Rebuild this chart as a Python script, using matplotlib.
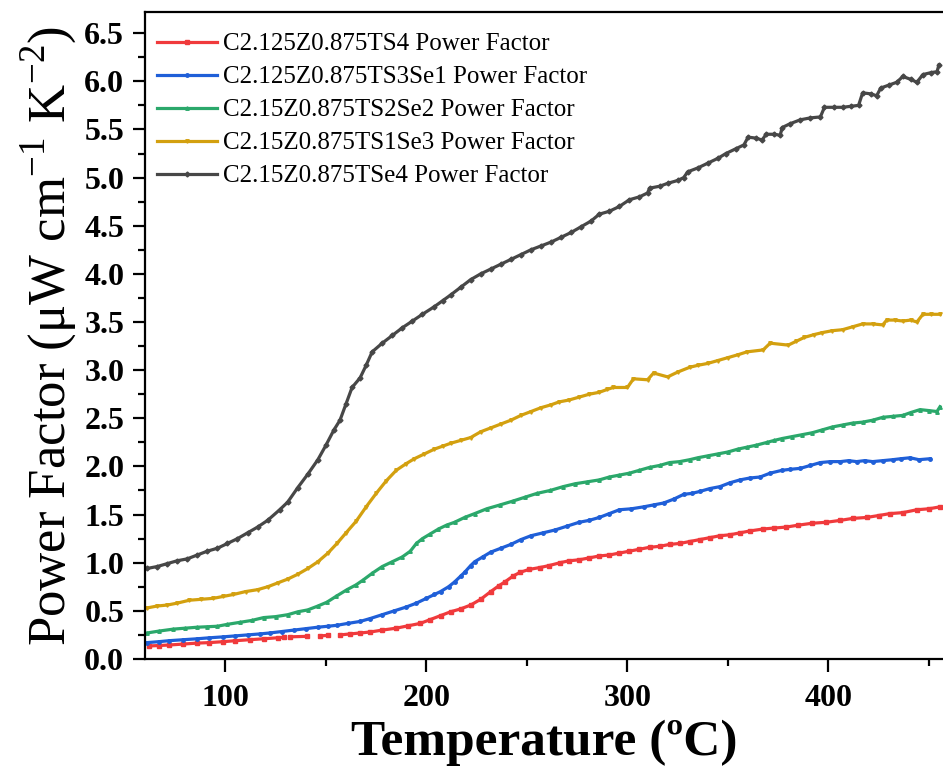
import numpy as np
import matplotlib
matplotlib.use('Agg')
import matplotlib.pyplot as plt
from matplotlib.ticker import MultipleLocator

plt.rcParams['font.family'] = 'serif'
plt.rcParams['font.serif'] = ['Liberation Serif', 'DejaVu Serif']
plt.rcParams['mathtext.fontset'] = 'custom'
plt.rcParams['mathtext.rm'] = 'Liberation Serif'

# temperature (C) and power factor (uW cm-1 K-2)
t_se4 = [61, 66, 71, 76, 81, 86, 91, 96, 101, 106, 111, 116, 121, 127, 131, 136, 141, 146, 150, 154,
         157, 160, 163, 167, 170, 173, 178, 183, 188, 193, 198, 204, 208, 212, 217, 222, 227, 232, 237,
         242, 247, 252, 257, 262, 267, 272, 277, 282, 286, 291, 296, 301, 306, 310, 311, 316, 320, 325,
         328, 330, 335, 340, 345, 349, 354, 358, 360, 364, 367, 369, 373, 376, 377, 381, 386, 391, 396,
         398, 403, 407, 411, 415, 417, 421, 424, 426, 430, 434, 437, 441, 444, 447, 451, 454, 455]
pf_se4 = [0.94, 0.96, 0.99, 1.02, 1.04, 1.08, 1.12, 1.15, 1.20, 1.25, 1.31, 1.37, 1.44, 1.55, 1.63,
          1.78, 1.92, 2.07, 2.22, 2.38, 2.48, 2.65, 2.82, 2.92, 3.05, 3.19, 3.28, 3.36, 3.44, 3.51,
          3.58, 3.66, 3.72, 3.78, 3.86, 3.94, 4.00, 4.05, 4.10, 4.15, 4.20, 4.25, 4.29, 4.33, 4.38,
          4.43, 4.49, 4.55, 4.62, 4.65, 4.70, 4.77, 4.80, 4.84, 4.89, 4.91, 4.94, 4.97, 5.00, 5.06,
          5.10, 5.15, 5.20, 5.25, 5.30, 5.34, 5.42, 5.41, 5.39, 5.45, 5.45, 5.44, 5.52, 5.56, 5.60,
          5.62, 5.63, 5.73, 5.73, 5.73, 5.74, 5.75, 5.88, 5.87, 5.85, 5.93, 5.96, 5.99, 6.05, 6.02,
          5.99, 6.07, 6.09, 6.10, 6.17]

t_s1se3 = [61, 66, 71, 76, 82, 88, 94, 99, 104, 110, 116, 121, 126, 131, 136, 141, 146, 151, 155.5,
           160, 165, 170, 175, 180, 185, 190, 194, 199, 204, 208, 212, 217, 222, 227, 232, 237, 242,
           247, 252, 257, 262, 266, 271, 276, 281, 286, 290, 293, 300, 303, 310, 313, 320, 325, 331,
           335, 340, 345, 350, 355, 359.5, 367.5, 371, 380, 384, 388, 393, 397, 402, 407, 412, 417,
           422, 427, 429, 433, 437, 441, 444, 447, 451, 455.5]
pf_s1se3 = [0.53, 0.55, 0.56, 0.58, 0.61, 0.62, 0.63, 0.65, 0.67, 0.70, 0.72, 0.75, 0.79, 0.83, 0.88,
            0.94, 1.01, 1.10, 1.20, 1.31, 1.43, 1.58, 1.72, 1.85, 1.96, 2.03, 2.08, 2.13, 2.18, 2.21,
            2.24, 2.27, 2.30, 2.36, 2.40, 2.44, 2.48, 2.53, 2.57, 2.61, 2.64, 2.67, 2.69, 2.72, 2.75,
            2.77, 2.80, 2.82, 2.82, 2.91, 2.90, 2.97, 2.93, 2.98, 3.03, 3.05, 3.07, 3.10, 3.13, 3.16,
            3.19, 3.21, 3.28, 3.26, 3.30, 3.34, 3.37, 3.39, 3.41, 3.42, 3.45, 3.48, 3.48, 3.47, 3.52,
            3.52, 3.51, 3.52, 3.50, 3.58, 3.58, 3.58]

t_s2se2 = [61, 67, 74, 80, 86, 91, 96, 101, 107, 113, 119, 125, 131, 136, 141, 146, 150.5, 155, 160.5,
           165, 168.5, 173, 178, 183, 188, 192, 195, 198, 202, 206, 210, 214, 219, 224, 230, 236.6, 243,
           249, 255, 261.5, 268, 274, 280, 286, 291, 296, 301, 306, 311, 316, 321, 326, 331, 335, 340,
           345, 350, 355, 359.5, 364, 369.5, 373, 377, 382, 387, 392, 397, 402, 407, 412, 417, 422,
           427, 432, 437, 441, 445.6, 450, 454, 455.5]
pf_s2se2 = [0.27, 0.29, 0.31, 0.32, 0.33, 0.335, 0.34, 0.36, 0.38, 0.40, 0.43, 0.44, 0.46, 0.49, 0.51,
            0.55, 0.59, 0.65, 0.72, 0.77, 0.82, 0.89, 0.96, 1.01, 1.06, 1.12, 1.20, 1.25, 1.30, 1.35,
            1.39, 1.42, 1.47, 1.51, 1.56, 1.60, 1.64, 1.68, 1.72, 1.75, 1.79, 1.82, 1.84, 1.86, 1.89,
            1.91, 1.93, 1.96, 1.99, 2.01, 2.04, 2.05, 2.07, 2.09, 2.11, 2.13, 2.15, 2.18, 2.20, 2.22,
            2.25, 2.27, 2.29, 2.31, 2.33, 2.35, 2.38, 2.41, 2.43, 2.45, 2.46, 2.48, 2.51, 2.52, 2.53,
            2.56, 2.59, 2.58, 2.57, 2.62]

t_s3se1 = [61, 67, 72, 79, 86, 92, 99, 105, 111, 117, 122, 128, 134, 140, 146, 151, 155.5, 161, 167,
           172, 178, 184, 190, 195, 200, 204, 207, 211, 214, 217, 219, 222, 224, 228, 232, 237, 242,
           247, 252, 258, 264, 270, 276, 281, 286, 291, 296, 302, 308, 313, 318, 323, 328, 332, 336,
           341, 346, 351, 356, 361, 366, 371, 377, 381, 386, 391, 396, 401, 406, 410, 414, 418, 422,
           427, 432, 436, 440.6, 445, 450.6]
pf_s3se1 = [0.17, 0.18, 0.19, 0.20, 0.21, 0.22, 0.23, 0.24, 0.25, 0.26, 0.27, 0.285, 0.30, 0.315, 0.33,
            0.34, 0.35, 0.37, 0.39, 0.42, 0.46, 0.50, 0.54, 0.58, 0.63, 0.67, 0.70, 0.75, 0.80, 0.86,
            0.90, 0.97, 1.01, 1.06, 1.11, 1.15, 1.19, 1.24, 1.28, 1.31, 1.34, 1.38, 1.42, 1.44, 1.47,
            1.51, 1.55, 1.56, 1.58, 1.60, 1.62, 1.66, 1.71, 1.72, 1.74, 1.77, 1.79, 1.83, 1.86, 1.88,
            1.89, 1.93, 1.96, 1.97, 1.98, 2.01, 2.04, 2.05, 2.05, 2.06, 2.05, 2.06, 2.05, 2.06, 2.07,
            2.08, 2.09, 2.07, 2.08]

# red curve has missing points around 130-155 C
t_s4 = [62, 67, 72, 79, 86, 92, 99, 105, 112, 119, 126, 129, 130.5, 132, 140.5, 144, 147, 151, 154,
        157, 162, 167, 172, 178, 185, 191, 197, 202, 207, 212, 217, 222, 227, 232, 236, 239, 243,
        246.6, 251, 256.5, 261, 266.5, 271, 276, 281, 286, 291, 296, 301, 306, 311, 316, 321, 326,
        331, 336, 341, 346, 351, 356, 361, 367.5, 373, 379, 385, 392, 399, 406, 412, 419, 425, 430.6,
        437, 444, 450, 455.5]
pf_s4 = [0.135, 0.14, 0.145, 0.155, 0.165, 0.17, 0.18, 0.19, 0.20, 0.21, 0.22, 0.225, np.nan, 0.23,
         0.235, np.nan, 0.24, 0.245, np.nan, 0.25, 0.26, 0.27, 0.28, 0.30, 0.32, 0.345, 0.37, 0.41,
         0.45, 0.49, 0.52, 0.56, 0.62, 0.70, 0.76, 0.80, 0.86, 0.90, 0.93, 0.95, 0.97, 1.00, 1.02,
         1.03, 1.05, 1.07, 1.08, 1.10, 1.12, 1.14, 1.16, 1.17, 1.19, 1.20, 1.22, 1.24, 1.26, 1.28,
         1.29, 1.31, 1.33, 1.35, 1.36, 1.37, 1.39, 1.41, 1.42, 1.44, 1.46, 1.47, 1.49, 1.51, 1.52,
         1.55, 1.56, 1.58]

labels = ['C2.125Z0.875TS4 Power Factor', 'C2.125Z0.875TS3Se1 Power Factor',
          'C2.15Z0.875TS2Se2 Power Factor', 'C2.15Z0.875TS1Se3 Power Factor',
          'C2.15Z0.875TSe4 Power Factor']
colors = ['#F03A3C', '#1F5FD8', '#2BA86B', '#D3A00F', '#474747']
markers = ['s', 'o', '^', 'v', 'D']

fig = plt.figure(figsize=(9.43, 7.73), dpi=100)
ax = fig.add_axes([0.1538, 0.1475, 0.8462, 0.837])

series = [(t_s4, pf_s4), (t_s3se1, pf_s3se1), (t_s2se2, pf_s2se2), (t_s1se3, pf_s1se3), (t_se4, pf_se4)]
for (t, pf), lab, c, m in zip(series, labels, colors, markers):
    ax.plot(t, pf, color=c, lw=2.3, marker=m, ms=2.5, label=lab)

ax.set_xlim(60, 457)
ax.set_ylim(0, 6.72)
ax.xaxis.set_major_locator(MultipleLocator(100))
ax.xaxis.set_minor_locator(MultipleLocator(50))
ax.yaxis.set_major_locator(MultipleLocator(0.5))
ax.yaxis.set_minor_locator(MultipleLocator(0.25))
ax.yaxis.set_major_formatter(matplotlib.ticker.FormatStrFormatter('%.1f'))

for s in ['left', 'bottom', 'top']:
    ax.spines[s].set_linewidth(1.6)
ax.spines['right'].set_visible(False)
ax.tick_params(which='major', direction='out', length=9, width=1.6, labelsize=23)
ax.tick_params(axis='x', which='major', pad=9)
ax.tick_params(axis='y', which='major', pad=6)
ax.tick_params(which='minor', direction='out', length=5, width=1.6)
for lbl in ax.get_xticklabels() + ax.get_yticklabels():
    lbl.set_fontweight('bold')

ax.set_xlabel('Temperature (ºC)', fontsize=37, fontweight='bold', labelpad=5)
ax.set_ylabel('Power Factor (μW cm$^{-1}$ K$^{-2}$)', fontsize=38, labelpad=4)

ax.legend(loc='upper left', frameon=False, fontsize=18, handlelength=2.4, handletextpad=0.25,
          labelspacing=0.42, borderaxespad=0.0, bbox_to_anchor=(0.002, 0.983))

fig.savefig('out.png', dpi=100)
